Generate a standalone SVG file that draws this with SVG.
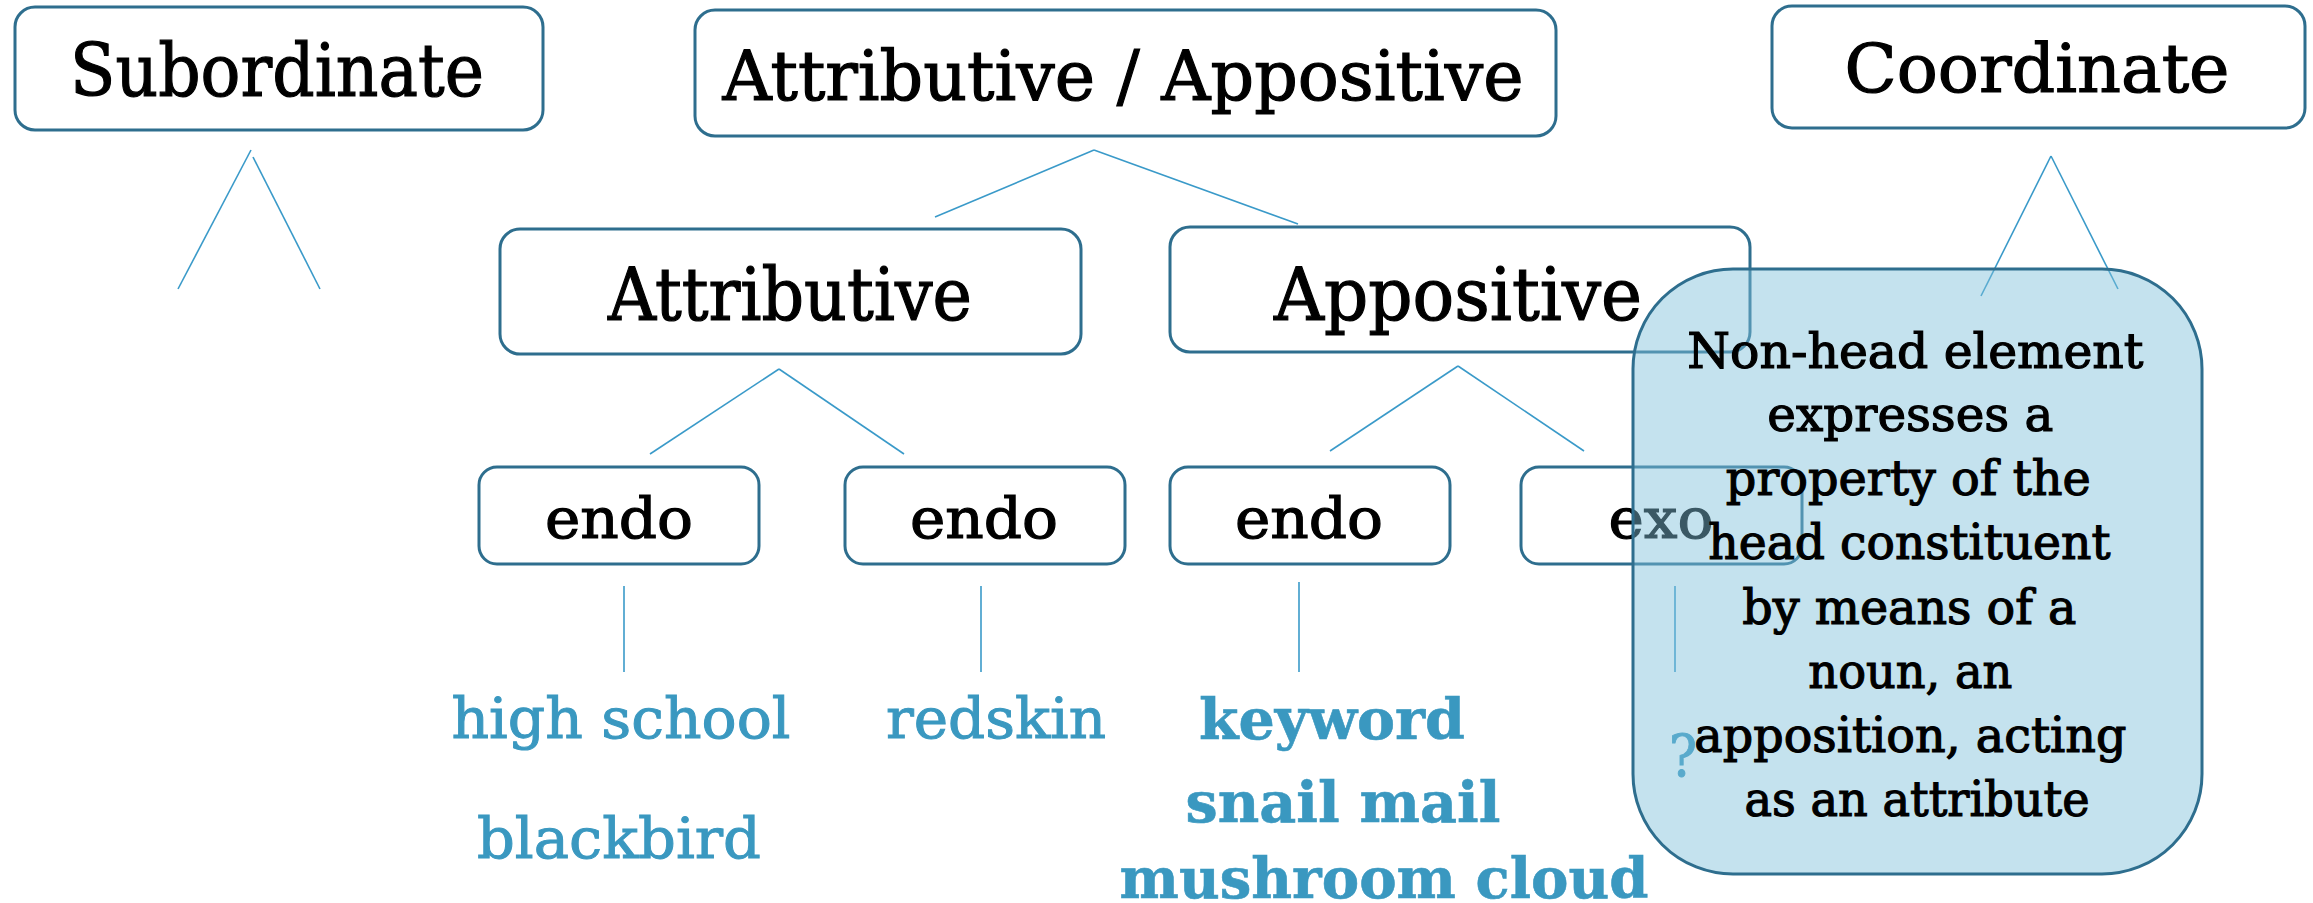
<svg xmlns="http://www.w3.org/2000/svg" width="2313" height="903" viewBox="0 0 2313 903">
<style>
  .box { fill: #ffffff; stroke: #2e6e8e; stroke-width: 3; }
  .t { font-family: "DejaVu Serif", "Liberation Serif", serif; fill: #000000; stroke: #000000; stroke-width: 1.2; text-anchor: middle; }
  .blue { font-family: "DejaVu Serif", "Liberation Serif", serif; fill: #3a98c0; stroke: #3a98c0; stroke-width: 1; text-anchor: middle; }
  .bold { font-weight: bold; stroke-width: 0.6; }
  .ln { stroke: #3a9ac9; stroke-width: 1.6; fill: none; }
  .note { fill: #7ec0da; fill-opacity: 0.46; stroke: #2e6e8e; stroke-width: 3; }
</style>
<rect width="2313" height="903" fill="#ffffff"/>

<g id="connectors">
  <line class="ln" x1="251" y1="150" x2="178" y2="289"/>
  <line class="ln" x1="253" y1="157" x2="320" y2="289"/>
  <line class="ln" x1="1094" y1="150" x2="935" y2="217"/>
  <line class="ln" x1="1094" y1="150" x2="1298" y2="224"/>
  <line class="ln" x1="779" y1="369" x2="650" y2="454"/>
  <line class="ln" x1="779" y1="369" x2="904" y2="454"/>
  <line class="ln" x1="1458" y1="366" x2="1330" y2="451"/>
  <line class="ln" x1="1458" y1="366" x2="1584" y2="451"/>
  <line class="ln" x1="624" y1="586" x2="624" y2="672"/>
  <line class="ln" x1="981" y1="586" x2="981" y2="672"/>
  <line class="ln" x1="1299" y1="582" x2="1299" y2="672"/>
  <line class="ln" x1="1675" y1="586" x2="1675" y2="672"/>
  <line class="ln" x1="2051" y1="156" x2="1981" y2="296"/>
  <line class="ln" x1="2051" y1="156" x2="2118" y2="289"/>
</g>

<g id="subordinate">
  <rect class="box" x="15" y="7" width="528" height="123" rx="20"/>
  <text class="t" x="277" y="96" font-size="73" textLength="414" lengthAdjust="spacingAndGlyphs">Subordinate</text>
</g>

<g id="attr-appos">
  <rect class="box" x="695" y="10" width="861" height="126" rx="20"/>
  <text class="t" x="1123" y="100" font-size="70" textLength="801" lengthAdjust="spacingAndGlyphs">Attributive / Appositive</text>
</g>

<g id="coordinate">
  <rect class="box" x="1772" y="6" width="533" height="122" rx="20"/>
  <text class="t" x="2037" y="92" font-size="67" textLength="385" lengthAdjust="spacingAndGlyphs">Coordinate</text>
</g>

<g id="attributive">
  <rect class="box" x="500" y="229" width="581" height="125" rx="20"/>
  <text class="t" x="790" y="320" font-size="72" textLength="364" lengthAdjust="spacingAndGlyphs">Attributive</text>
</g>

<g id="appositive">
  <rect class="box" x="1170" y="227" width="580" height="125" rx="20"/>
  <text class="t" x="1458" y="320" font-size="72" textLength="368" lengthAdjust="spacingAndGlyphs">Appositive</text>
</g>

<g id="endo1">
  <rect class="box" x="479" y="467" width="280" height="97" rx="18"/>
  <text class="t" x="619" y="538" font-size="56" textLength="148" lengthAdjust="spacingAndGlyphs">endo</text>
</g>
<g id="endo2">
  <rect class="box" x="845" y="467" width="280" height="97" rx="18"/>
  <text class="t" x="984" y="538" font-size="56" textLength="148" lengthAdjust="spacingAndGlyphs">endo</text>
</g>
<g id="endo3">
  <rect class="box" x="1170" y="467" width="280" height="97" rx="18"/>
  <text class="t" x="1309" y="538" font-size="56" textLength="148" lengthAdjust="spacingAndGlyphs">endo</text>
</g>
<g id="exo">
  <rect class="box" x="1521" y="467" width="281" height="97" rx="18"/>
  <text class="t" x="1661" y="538" font-size="56" textLength="105" lengthAdjust="spacingAndGlyphs">exo</text>
</g>

<g id="examples">
  <text class="blue" x="621" y="738" font-size="56" textLength="339" lengthAdjust="spacingAndGlyphs">high school</text>
  <text class="blue" x="619" y="858" font-size="56" textLength="284" lengthAdjust="spacingAndGlyphs">blackbird</text>
  <text class="blue" x="996" y="738" font-size="56" textLength="220" lengthAdjust="spacingAndGlyphs">redskin</text>
  <text class="blue bold" x="1332" y="739" font-size="56" textLength="266" lengthAdjust="spacingAndGlyphs">keyword</text>
  <text class="blue bold" x="1343" y="822" font-size="56" textLength="315" lengthAdjust="spacingAndGlyphs">snail mail</text>
  <text class="blue bold" x="1384" y="898" font-size="56" textLength="529" lengthAdjust="spacingAndGlyphs">mushroom cloud</text>
  <text class="blue" x="1683" y="776" font-size="58" textLength="28" lengthAdjust="spacingAndGlyphs">?</text>
</g>

<g id="note">
  <rect class="note" x="1633" y="269" width="569" height="605" rx="100" ry="100"/>
  <text class="t" font-size="48">
    <tspan x="1923" y="368" textLength="456" lengthAdjust="spacingAndGlyphs">Non-head element</tspan>
    <tspan x="1918" y="431" textLength="286" lengthAdjust="spacingAndGlyphs">expresses a</tspan>
    <tspan x="1916" y="495" textLength="365" lengthAdjust="spacingAndGlyphs">property of the</tspan>
    <tspan x="1917" y="559" textLength="402" lengthAdjust="spacingAndGlyphs">head constituent</tspan>
    <tspan x="1917" y="624" textLength="334" lengthAdjust="spacingAndGlyphs">by means of a</tspan>
    <tspan x="1918" y="688" textLength="204" lengthAdjust="spacingAndGlyphs">noun, an</tspan>
    <tspan x="1918" y="752" textLength="432" lengthAdjust="spacingAndGlyphs">apposition, acting</tspan>
    <tspan x="1917" y="816" textLength="345" lengthAdjust="spacingAndGlyphs">as an attribute</tspan>
  </text>
</g>
</svg>
